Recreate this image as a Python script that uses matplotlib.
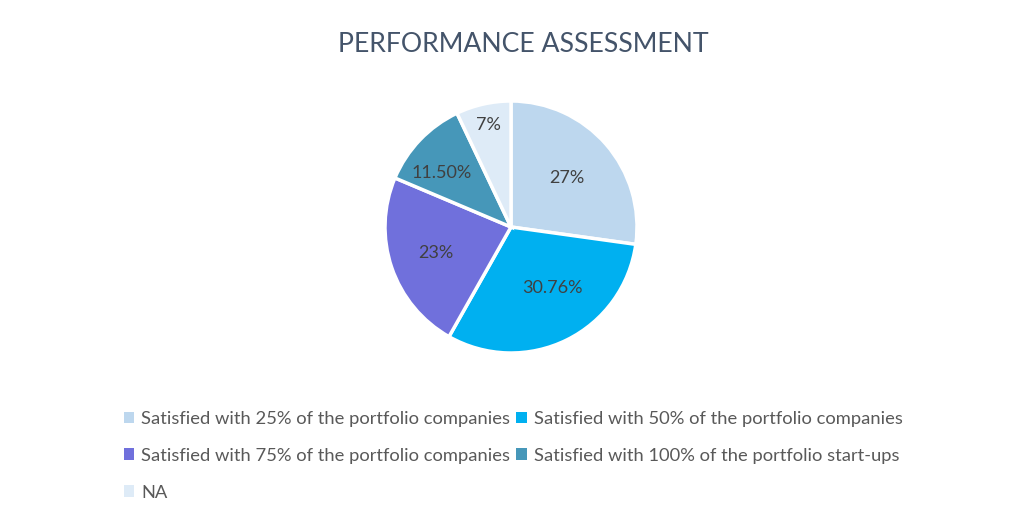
import numpy as np
import matplotlib

matplotlib.use("Agg")

import matplotlib.pyplot as plt
from matplotlib.patches import Patch

plt.rcParams["font.family"] = ["Lato", "DejaVu Sans"]

categories = [
    "Satisfied with 25% of the portfolio companies",
    "Satisfied with 50% of the portfolio companies",
    "Satisfied with 75% of the portfolio companies",
    "Satisfied with 100% of the portfolio start-ups",
    "NA",
]
values = [27, 30.76, 23, 11.5, 7]
value_labels = ["27%", "30.76%", "23%", "11.50%", "7%"]
colors = ["#BDD7EE", "#00B0F0", "#7070DC", "#4697B9", "#DEEBF7"]

# "best fit" style label placement: distance (fraction of radius), angle nudge (deg)
label_dist = [0.59, 0.59, 0.63, 0.70, 0.83]
label_nudge = [0, 8, 0, 6, 0]

fig = plt.figure(figsize=(10.24, 5.15), dpi=100)

# pie axes: centre ~ (511, 227) px, radius ~126 px
ax = fig.add_axes([(511 - 126) / 1024, (515 - 227 - 126) / 515, 252 / 1024, 252 / 515])
wedges, texts = ax.pie(
    values,
    colors=colors,
    startangle=90,
    counterclock=False,
    radius=1.0,
    wedgeprops={"edgecolor": "white", "linewidth": 2.5},
)
for w, lab, d, nudge in zip(wedges, value_labels, label_dist, label_nudge):
    ang = np.deg2rad((w.theta1 + w.theta2) / 2 + nudge)
    ax.text(d * np.cos(ang), d * np.sin(ang), lab, ha="center", va="center",
            fontsize=13, color="#404040")
ax.set_xlim(-1, 1)
ax.set_ylim(-1, 1)
ax.set_aspect("equal")
ax.axis("off")

fig.text(523 / 1024, 1 - 44 / 515, "PERFORMANCE ASSESSMENT", ha="center", va="center",
         fontsize=19.2, color="#44546A")

# legend filled row by row, two columns
handles = [Patch(facecolor=c, edgecolor="none") for c in colors]
order = [0, 2, 4, 1, 3]
leg = fig.legend(
    [handles[i] for i in order],
    [categories[i] for i in order],
    ncol=2,
    loc="upper left",
    bbox_to_anchor=(107 / 1024, 1 - 394 / 515),
    frameon=False,
    fontsize=13.25,
    handlelength=0.55,
    handleheight=0.55,
    handletextpad=0.4,
    columnspacing=0.35,
    labelspacing=1.14,
    labelcolor="#595959",
)

fig.savefig("out.png", dpi=100, facecolor="white")
